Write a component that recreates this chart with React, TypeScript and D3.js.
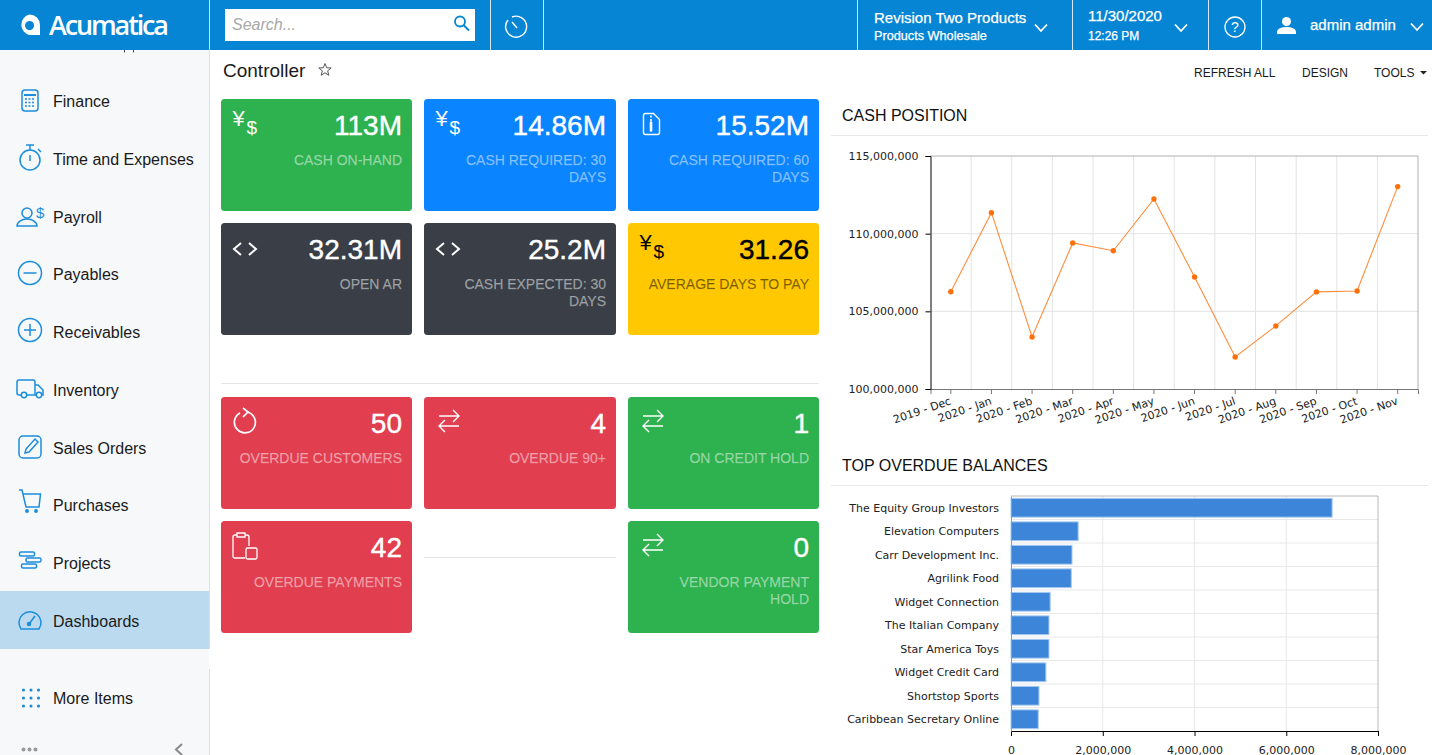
import * as d3 from 'd3';
import { useRef, useEffect } from 'react';

const months = ['2019 - Dec', '2020 - Jan', '2020 - Feb', '2020 - Mar', '2020 - Apr', '2020 - May', '2020 - Jun', '2020 - Jul', '2020 - Aug', '2020 - Sep', '2020 - Oct', '2020 - Nov'];
const cashPosition = [106260000, 111350000, 103350000, 109400000, 108900000, 112230000, 107210000, 102060000, 104060000, 106250000, 106310000, 113030000];
const cashTicks = [100000000, 105000000, 110000000, 115000000];

const customers = ['The Equity Group Investors', 'Elevation Computers', 'Carr Development Inc.', 'Agrilink Food', 'Widget Connection', 'The Italian Company', 'Star America Toys', 'Widget Credit Card', 'Shortstop Sports', 'Caribbean Secretary Online'];
const overdueBalances = [7000000, 1464000, 1330000, 1314000, 854000, 828000, 828000, 760000, 610000, 594000];
const balanceTicks = [0, 2000000, 4000000, 6000000, 8000000];

const menuItems = ['Finance', 'Time and Expenses', 'Payroll', 'Payables', 'Receivables', 'Inventory', 'Sales Orders', 'Purchases', 'Projects', 'Dashboards'];

const kpiValues = ['113M', '14.86M', '15.52M', '32.31M', '25.2M', '31.26'];
const kpiLabels = [['CASH ON-HAND'], ['CASH REQUIRED: 30', 'DAYS'], ['CASH REQUIRED: 60', 'DAYS'], ['OPEN AR'], ['CASH EXPECTED: 30', 'DAYS'], ['AVERAGE DAYS TO PAY']];
const kpiColors = ['green', 'blue', 'blue', 'dark', 'dark', 'yellow'];
const kpiIcons = ['money', 'money', 'doc', 'code', 'code', 'money'];

const alertValues = ['50', '4', '1', '42', '0'];
const alertLabels = [['OVERDUE CUSTOMERS'], ['OVERDUE 90+'], ['ON CREDIT HOLD'], ['OVERDUE PAYMENTS'], ['VENDOR PAYMENT', 'HOLD']];
const alertColors = ['red', 'red', 'green', 'red', 'green'];
const alertIcons = ['refresh', 'swap', 'swap', 'clip', 'swap'];

const palette: Record<string, string> = { green: '#2eb14f', blue: '#0a84ff', dark: '#3a3f47', yellow: '#ffc800', red: '#e13e50' };
const UI_FONT = '"Liberation Sans", Arial, sans-serif';
const CHART_FONT = '"DejaVu Sans", Verdana, sans-serif';
const BLUE = '#0585d3';

const colX = [221, 424, 628];
const colW = [191, 192, 191];

const Chevron = ({ x, y }: { x: number; y: number }) => (
  <path d={`M${x - 6},${y - 3.5} L${x},${y + 3} L${x + 6},${y - 3.5}`} fill="none" stroke="#fff" strokeWidth={1.8} />
);

function CardIcon({ kind, x, y, color }: { kind: string; x: number; y: number; color: string }) {
  if (kind === 'money') {
    return (
      <g fill={color} fontFamily={UI_FONT}>
        <text x={x + 0.5} y={y + 11} fontSize={22}>¥</text>
        <text x={x + 14.5} y={y + 19} fontSize={19}>$</text>
      </g>
    );
  }
  if (kind === 'code') {
    return <path d={`M${x + 9},${y - 6} L${x + 2},${y} L${x + 9},${y + 6} M${x + 17},${y - 6} L${x + 24},${y} L${x + 17},${y + 6}`} fill="none" stroke={color} strokeWidth={2} transform="translate(0,10)" />;
  }
  if (kind === 'doc') {
    // zip file outline with folded corner
    return (
      <g fill="none" stroke={color}>
        <path d={`M${x + 7},${y - 1.5} h8 l6,6 v13 a2,2 0 0 1 -2,2 h-12 a2,2 0 0 1 -2,-2 v-17 a2,2 0 0 1 2,-2 z`} strokeWidth={1.4} transform="translate(-0.5,0)" />
        <path d={`M${x + 12},${y + 0.5} v2 M${x + 12},${y + 4} v2`} strokeWidth={1.6} />
        <path d={`M${x + 12},${y + 7.5} v8`} strokeWidth={2.6} strokeLinecap="round" />
      </g>
    );
  }
  if (kind === 'swap') {
    return (
      <path d={`M${x + 1},${y - 3} h20 M${x + 15},${y - 9} l6,6 l-6,6 M${x + 21},${y + 7} h-20 M${x + 7},${y + 1} l-6,6 l6,6`} fill="none" stroke={color} strokeWidth={1.4} transform="translate(3,6)" />
    );
  }
  if (kind === 'refresh') {
    return (
      <g fill="none" stroke={color} strokeWidth={1.7}>
        <path d="M240,413 A10.500,10.500 0 1 0 247,412" />
        <path d="M243,408 L248,412 L243,417" />
      </g>
    );
  }
  return (
    <g fill="none" stroke={color} strokeWidth={1.3}>
      <path d="M237,535 h-2 a2,2 0 0 0 -2,2 v19 a2,2 0 0 0 2,2 h10 M249,546 v-9 a2,2 0 0 0 -2,-2 h-2" />
      <path d="M237,533 h8 v4 h-8 z" />
      <rect x={246} y={548} width={11} height={11} rx={1.5} />
    </g>
  );
}

function Card({ x, y, w, color, icon, value, label }: { x: number; y: number; w: number; color: string; icon: string; value: string; label: string[] }) {
  const isYellow = color === 'yellow';
  const fg = isYellow ? '#000' : '#fff';
  return (
    <g>
      <rect x={x} y={y} width={w} height={112} rx={3.5} fill={palette[color]} />
      <CardIcon kind={icon} x={x + 11} y={y + 16} color={fg} />
      <text x={x + w - 10} y={y + 36} textAnchor="end" fontSize={28} fill={fg} style={{ stroke: fg, strokeWidth: 0.4 }}>{value}</text>
      {label.map((line, i) => (
        <text key={line} x={x + w - 10} y={y + 66 + i * 17} textAnchor="end" fontSize={14} fill={isYellow ? 'rgba(0,0,0,0.5)' : 'rgba(255,255,255,0.48)'} style={{ stroke: isYellow ? 'rgba(0,0,0,0.3)' : 'rgba(255,255,255,0.3)', strokeWidth: 0.25 }}>{line}</text>
      ))}
    </g>
  );
}

function MenuIcon({ index, y }: { index: number; y: number }) {
  const c = '#1c8ddb';
  const common = { fill: 'none', stroke: c, strokeWidth: 1.5 };
  switch (index) {
    case 0:
      return (
        <g {...common}>
          <rect x={22} y={y - 11} width={16} height={21} rx={3} />
          <path d={`M24,${y - 6} h12`} strokeWidth={2} />
          <path d={`M25,${y - 2} h10 M25,${y + 1.5} h10 M25,${y + 5} h10`} strokeWidth={1.6} strokeDasharray="2 1.5" />
        </g>
      );
    case 1:
      return (
        <g {...common}>
          <circle cx={30} cy={y + 1} r={10} />
          <path d={`M26,${y - 14} h8 M30,${y - 14} v5 M30,${y - 4} v6 M38,${y - 10} l3,3`} />
        </g>
      );
    case 2:
      return (
        <g {...common}>
          <circle cx={27} cy={y - 4} r={5} />
          <path d={`M17,${y + 9} a10,7 0 0 1 20,0 z`} />
          <text x={36} y={y + 1} fontSize={15} fill={c} stroke="none" fontFamily={UI_FONT}>$</text>
        </g>
      );
    case 3:
      return (
        <g {...common}>
          <circle cx={30} cy={y - 1} r={11.5} />
          <path d={`M23.5,${y - 1} h13`} />
        </g>
      );
    case 4:
      return (
        <g {...common}>
          <circle cx={30} cy={y - 2} r={11.5} />
          <path d={`M24,${y - 2} h12 M30,${y - 8} v12`} />
        </g>
      );
    case 5:
      return (
        <g {...common}>
          <path d={`M21,${y + 5} h-2 a2,2 0 0 1 -2,-2 v-11 a2,2 0 0 1 2,-2 h14 a2,2 0 0 1 2,2 v13 M35,${y - 5} h3 l5,5 v5 h-1 M27,${y + 5} h9`} />
          <circle cx={24} cy={y + 5} r={2.7} />
          <circle cx={39} cy={y + 5} r={2.7} />
        </g>
      );
    case 6:
      return (
        <g {...common}>
          <rect x={19} y={y - 12} width={22} height={22} rx={4} />
          <path d={`M25,${y + 5} l1,-4 l9,-10 l3,3 l-9,10 z`} />
        </g>
      );
    case 7:
      return (
        <g {...common}>
          <path d={`M19,${y - 15} h3 l4,17 h13 l1.500,-13 h-18`} />
          <circle cx={27} cy={y + 6} r={1.2} fill={c} />
          <circle cx={36} cy={y + 6} r={1.2} fill={c} />
        </g>
      );
    case 8:
      return (
        <g {...common}>
          <rect x={19.500} y={y - 11} width={15} height={4} rx={1.5} />
          <rect x={26} y={y - 5} width={15} height={4} rx={1.5} />
          <rect x={21.500} y={y + 1} width={15} height={4} rx={1.5} />
        </g>
      );
    default:
      return (
        <g {...common}>
          <path d={`M21,${y + 8} h18 a11,11 0 1 0 -18,0 z`} />
          <path d={`M29,${y + 3} l6,-8`} />
          <circle cx={29} cy={y + 3} r={1.5} fill={c} />
        </g>
      );
  }
}

function CashPositionChart() {
  const xAxisRef = useRef<SVGGElement>(null);
  const yAxisRef = useRef<SVGGElement>(null);
  const left = 930.5, right = 1418, top = 156, bottom = 389;

  const x = d3.scaleBand().domain(months).range([left, right]);
  const y = d3.scaleLinear().domain([100000000, 115000000]).range([bottom, top]);
  const cx = (m: string) => x(m)! + x.bandwidth() / 2;
  const path = d3.line<number>().x((_, i) => cx(months[i])).y(d => y(d))(cashPosition)!;

  useEffect(() => {
    const xAxis = d3.select(xAxisRef.current!).call(d3.axisBottom(x).tickSize(5));
    xAxis.select('.domain').attr('stroke', '#777');
    xAxis.selectAll('.tick line').attr('stroke', '#777');
    xAxis.selectAll('text')
      .attr('font-size', 11)
      .attr('font-family', CHART_FONT)
      .attr('fill', '#222')
      .attr('text-anchor', 'end')
      .attr('dy', 0)
      .attr('y', 0)
      .attr('transform', 'translate(1,15) rotate(-19)');
    const yAxis = d3.select(yAxisRef.current!).call(d3.axisLeft(y).tickValues(cashTicks).tickSize(5).tickPadding(7).tickFormat(d3.format(',')));
    yAxis.select('.domain').attr('stroke', '#000');
    yAxis.selectAll('text').attr('font-size', 11).attr('font-family', CHART_FONT).attr('fill', '#222');
  }, []);

  return (
    <g>
      {months.slice(1).map(m => (
        <line key={m} x1={x(m)} x2={x(m)} y1={top} y2={bottom} stroke="#e3e3e3" />
      ))}
      {cashTicks.slice(1, 3).map(t => (
        <line key={t} x1={left} x2={right} y1={y(t)} y2={y(t)} stroke="#e3e3e3" />
      ))}
      <path d={`M${left},${top} H${right} V${bottom}`} fill="none" stroke="#b0b0b0" />
      <path d={path} fill="none" stroke="#ff8c3a" strokeWidth={1.1} />
      {cashPosition.map((d, i) => (
        <circle key={months[i]} cx={cx(months[i])} cy={y(d)} r={2.7} fill="#ff6f0a" />
      ))}
      <g ref={xAxisRef} transform={`translate(0,${bottom})`} />
      <g ref={yAxisRef} transform={`translate(${left},0)`} />
    </g>
  );
}

function OverdueBalancesChart() {
  const xAxisRef = useRef<SVGGElement>(null);
  const yAxisRef = useRef<SVGGElement>(null);
  const left = 1011, right = 1378, top = 496, bottom = 731;

  const x = d3.scaleLinear().domain([0, 8000000]).range([left, right]);
  const y = d3.scaleBand().domain(customers).range([top, bottom]).paddingInner(0.2).paddingOuter(0.1);
  const step = y.step();

  useEffect(() => {
    const xAxis = d3.select(xAxisRef.current!).call(d3.axisBottom(x).tickValues(balanceTicks).tickSize(5).tickPadding(10).tickFormat(d3.format(',')));
    xAxis.select('.domain').attr('stroke', '#000');
    xAxis.selectAll('text').attr('font-size', 11).attr('font-family', CHART_FONT).attr('fill', '#222');
    const yAxis = d3.select(yAxisRef.current!).call(d3.axisLeft(y).tickSize(0).tickPadding(12));
    yAxis.select('.domain').attr('stroke', '#999');
    yAxis.selectAll('text').attr('font-size', 11).attr('font-family', CHART_FONT).attr('fill', '#222').attr('dy', '0.36em');
  }, []);

  return (
    <g>
      {balanceTicks.slice(1, 4).map(t => (
        <line key={t} x1={x(t)} x2={x(t)} y1={top} y2={bottom} stroke="#e8e8e8" />
      ))}
      {customers.slice(1).map(c => (
        <line key={c} x1={left} x2={right} y1={y(c)! - (step - y.bandwidth()) / 2} y2={y(c)! - (step - y.bandwidth()) / 2} stroke="#e8e8e8" />
      ))}
      <path d={`M${left},${top} H${right} V${bottom}`} fill="none" stroke="#b8b8b8" />
      {overdueBalances.map((d, i) => (
        <rect key={customers[i]} x={left} y={y(customers[i])} width={x(d) - left} height={y.bandwidth()} fill="#3d85d9" stroke="#a9cbf0" strokeWidth={1} />
      ))}
      <g ref={xAxisRef} transform={`translate(0,${bottom})`} />
      <g ref={yAxisRef} transform={`translate(${left},0)`} />
    </g>
  );
}

export default function App() {
  const menuY = d3.scaleLinear().domain([0, 9]).range([101, 621]);
  const kpiRows = [99, 223];
  const alertSlots = [[0, 397], [1, 397], [2, 397], [0, 521], [2, 521]];

  return (
    <svg width={1432} height={755} style={{ position: 'absolute', left: 0, top: 0, display: 'block', background: '#fff' }} fontFamily={UI_FONT}>
      {/* left menu */}
      <rect x={0} y={50} width={209} height={705} fill="#f6f8fa" />
      <line x1={209.500} x2={209.500} y1={50} y2={649} stroke="#dde0e3" />
      <line x1={209.500} x2={209.500} y1={669} y2={755} stroke="#dde0e3" />
      <rect x={0} y={591} width={209} height={58} fill="#bbdaf0" />
      {/* descenders of the menu entry scrolled under the top bar */}
      <path d="M124.500,50 v2.500 M133.500,50 v2.500" stroke="#444" strokeWidth={1} />
      {menuItems.map((item, i) => (
        <g key={item}>
          <MenuIcon index={i} y={Math.round(menuY(i))} />
          <text x={53} y={Math.round(menuY(i)) + 5.5} fontSize={16} fill="#1a1a1a">{item}</text>
        </g>
      ))}
      {d3.range(3).flatMap(r => d3.range(3).map(c => (
        <circle key={`${r}-${c}`} cx={23.500 + c * 7.500} cy={690 + r * 8} r={1.6} fill="#1c8ddb" />
      )))}
      <text x={53} y={703.500} fontSize={16} fill="#1a1a1a">More Items</text>
      {d3.range(3).map(i => <circle key={i} cx={23.500 + i * 6} cy={749.500} r={2} fill="#999" />)}
      <path d="M182,744 L176,749.500 L182,755" fill="none" stroke="#888" strokeWidth={2} />

      {/* top bar */}
      <rect x={0} y={0} width={1432} height={50} fill={BLUE} />
      <path d="M29.500,14.500 a10.500,10.500 0 0 1 10.500,10.500 v10 h-10.500 a10.500,10.500 0 0 1 0,-20.500 z M29.500,21 a4.500,4.500 0 1 0 0.100,0 z" fill="#fff" fillRule="evenodd" />
      <text x={49} y={35} fontSize={27} fill="#fff" fontFamily='"Open Sans", sans-serif' fontWeight={600} textLength={120}>Acumatica</text>
      {[209.500, 490.500, 543.500, 857.500, 1072.500, 1208.500, 1261.500].map(d => (
        <line key={d} x1={d} x2={d} y1={0} y2={50} stroke="#d5e9f6" />
      ))}
      <rect x={225} y={9} width={250} height={32} fill="#fff" />
      <text x={232} y={30} fontSize={16} fontStyle="italic" fill="#a8a8a8">Search...</text>
      <circle cx={460} cy={21.500} r={5} fill="none" stroke={BLUE} strokeWidth={1.8} />
      <path d="M463.500,25 L469,30.500" stroke={BLUE} strokeWidth={2} />
      <g fill="none" stroke="#fff" strokeWidth={1.4}>
        <path d="M512,17 A10.500,10.500 0 1 1 508,20" />
        <path d="M512,22 L517,28" />
      </g>
      <g fill="#fff" fontSize={15} style={{ stroke: '#fff', strokeWidth: 0.25 }}>
        <text x={874} y={23}>Revision Two Products</text>
        <text x={874} y={40} fontSize={12.700}>Products Wholesale</text>
        <text x={1088} y={21}>11/30/2020</text>
        <text x={1088} y={40} fontSize={12}>12:26 PM</text>
        <text x={1310} y={30}>admin admin</text>
      </g>
      <Chevron x={1041} y={28} />
      <Chevron x={1181} y={28} />
      <Chevron x={1417} y={27} />
      <circle cx={1235} cy={27} r={10} fill="none" stroke="#fff" strokeWidth={1.3} />
      <text x={1235} y={32} fontSize={14} textAnchor="middle" fill="#fff">?</text>
      <circle cx={1286.500} cy={21.500} r={4.500} fill="#fff" />
      <path d="M1277,34 v-2.500 a9.500,4.500 0 0 1 19,0 v2.500 z" fill="#fff" />

      {/* page title */}
      <text x={223} y={76.500} fontSize={19} fill="#1a1a1a">Controller</text>
      <path d={d3.line()(d3.range(10).map(i => {
        const r = i % 2 ? 2.800 : 6.500;
        const a = -Math.PI / 2 + i * Math.PI / 5;
        return [325 + r * Math.cos(a), 70 + r * Math.sin(a)] as [number, number];
      }))! + 'Z'} fill="none" stroke="#555" />
      <g fontSize={12} fill="#1a1a1a">
        <text x={1194} y={77}>REFRESH ALL</text>
        <text x={1302} y={77}>DESIGN</text>
        <text x={1374} y={77}>TOOLS</text>
      </g>
      <path d="M1420,71 h7 l-3.500,3.500 z" fill="#222" />

      {/* tiles */}
      {kpiValues.map((v, i) => (
        <Card key={kpiLabels[i][0]} x={colX[i % 3]} y={kpiRows[Math.floor(i / 3)]} w={colW[i % 3]} color={kpiColors[i]} icon={kpiIcons[i]} value={v} label={kpiLabels[i]} />
      ))}
      <line x1={221} x2={819} y1={383.500} y2={383.500} stroke="#e5e5e5" />
      {alertValues.map((v, i) => (
        <Card key={alertLabels[i][0]} x={colX[alertSlots[i][0]]} y={alertSlots[i][1]} w={colW[alertSlots[i][0]]} color={alertColors[i]} icon={alertIcons[i]} value={v} label={alertLabels[i]} />
      ))}
      <line x1={424} x2={616} y1={557.500} y2={557.500} stroke="#e5e5e5" />

      {/* charts */}
      <text x={842} y={121} fontSize={16} fill="#111">CASH POSITION</text>
      <line x1={831} x2={1428} y1={135.500} y2={135.500} stroke="#e8e8e8" />
      <CashPositionChart />
      <text x={842} y={471} fontSize={16} fill="#111">TOP OVERDUE BALANCES</text>
      <line x1={831} x2={1428} y1={485.500} y2={485.500} stroke="#e8e8e8" />
      <OverdueBalancesChart />
    </svg>
  );
}
